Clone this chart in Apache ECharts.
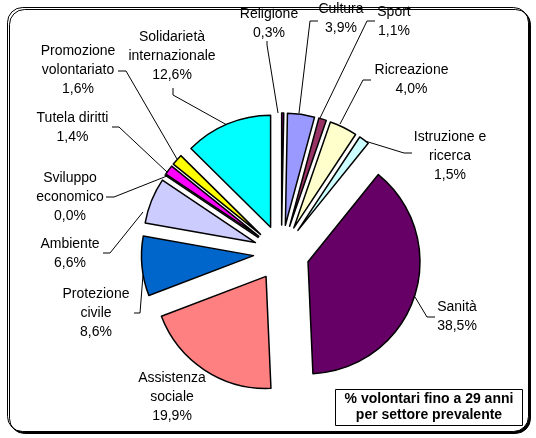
<!DOCTYPE html>
<html><head><meta charset="utf-8">
<script src="https://cdn.jsdelivr.net/npm/echarts@6/dist/echarts.min.js"></script>
<style>html,body{margin:0;padding:0;background:#fff}#c{width:536px;height:438px}</style>
</head><body><div id="c"></div>
<script>
// ---- data ----
const categories = ['Religione','Cultura','Sport','Ricreazione','Istruzione e\nricerca','Sanità','Assistenza\nsociale','Protezione\ncivile','Ambiente','Sviluppo\neconomico','Tutela diritti','Promozione\nvolontariato','Solidarietà\ninternazionale'];
const values = [0.3, 3.9, 1.1, 4.0, 1.5, 38.5, 19.9, 8.6, 6.6, 0.0, 1.4, 1.6, 12.6];
const boxLines = ['% volontari fino a 29 anni', 'per settore prevalente'];

// ---- styles / layout ----
const colors = ['#800080','#9999FF','#993366','#FFFFCC','#CCFFFF','#660066','#FF8080','#0066CC','#CCCCFF','#000080','#FF00FF','#FFFF00','#00FFFF'];
const labelPos = [[269,23.5],[341,19],[394,22],[411.5,80],[450,156],[457,316.5],[172,397],[96,313],[70,253.5],[70,197],[72.5,128],[78,70],[172,56.5]];
const leaders = [
  [[278,113],[267,45],[267,41]],
  [[299,113],[310,21],[318,21]],
  [[320,118],[367,21],[375,21]],
  [[340,124],[363,80],[371,80]],
  [[365,141],[404,153],[412,153]],
  [[415,297],[427,317],[435,317]],
  null,
  [[143,275],[140,313],[134,313]],
  [[143,212],[110,253],[103,253]],
  [[167,176],[114,197],[106,197]],
  [[167,172],[119,127],[112,127]],
  [[177,159],[126,71],[118,71]],
  [[227,125],[173,95],[173,88]]
];
const CENTER = [281.4, 253], R = 112, EXPLODE = 28;
const FONT = 'Liberation Sans, Arial, sans-serif';

const fmt = v => v.toFixed(1).replace('.', ',') + '%';

const chart = echarts.init(document.getElementById('c'), null, {renderer:'canvas'});
chart.setOption({
  animation: false,
  graphic: [
    {type:'rect', z:0, shape:{x:7.5,y:7.5,width:521,height:424,r:15},
     style:{fill:'#fff', stroke:'#000', lineWidth:1, shadowColor:'#000', shadowOffsetX:2, shadowOffsetY:2, shadowBlur:0}},
    {type:'rect', z:100, shape:{x:335.5,y:389.5,width:187,height:36},
     style:{fill:'#fff', stroke:'#000', lineWidth:1}},
    {type:'text', z:101, x:429, y:407.5,
     style:{text: boxLines.join('\n'), align:'center', verticalAlign:'middle', font:'bold 14px ' + FONT, lineHeight:16, fill:'#000'}}
  ],
  series: [
    {
      type:'pie', center:CENTER, radius:R, startAngle:90, clockwise:true,
      selectedMode:'multiple', selectedOffset:EXPLODE,
      avoidLabelOverlap:false, silent:true,
      data: categories.map((n,i)=>({name:n, value:values[i], selected:true, itemStyle:{color:colors[i]}})),
      itemStyle:{borderColor:'#000', borderWidth:1.5},
      select:{itemStyle:{borderColor:'#000', borderWidth:1.5}},
      emphasis:{disabled:true},
      label:{show:false}, labelLine:{show:false}
    },
    {
      type:'pie', center:CENTER, radius:R, startAngle:90, clockwise:true,
      avoidLabelOverlap:false, silent:true,
      data: categories.map((n,i)=>({name:n, value:values[i]})),
      itemStyle:{color:'rgba(0,0,0,0)', borderWidth:0},
      emphasis:{disabled:true},
      label:{show:true, position:'outside', color:'#000', fontFamily:FONT, fontSize:14, lineHeight:19, align:'center',
             formatter: p => categories[p.dataIndex] + '\n' + fmt(values[p.dataIndex])},
      labelLine:{show:true, length:5, length2:5, lineStyle:{color:'#000', width:1}},
      labelLayout: p => {
        const i = p.dataIndex, pos = labelPos[i];
        const pts = leaders[i] || [[pos[0],pos[1]],[pos[0],pos[1]],[pos[0],pos[1]]];
        return {x:pos[0], y:pos[1], align:'center', verticalAlign:'middle', labelLinePoints:pts};
      }
    }
  ]
});
</script></body></html>
